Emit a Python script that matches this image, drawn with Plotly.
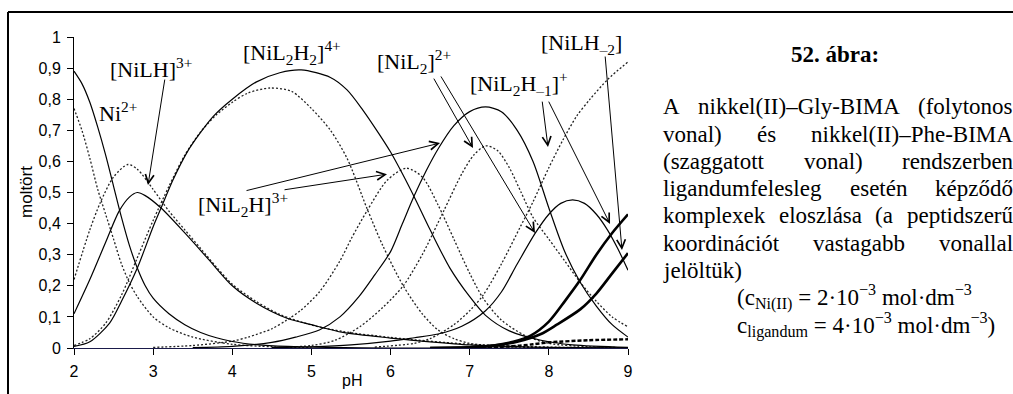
import plotly.graph_objects as go

# ---------------- data ----------------
# Gly-BIMA system (solid lines)
ph_ni_g = [2.0, 2.1, 2.2, 2.3, 2.4, 2.5, 2.6, 2.7, 2.8, 2.9, 3.0, 3.2, 3.4, 3.6, 3.8, 4.0, 4.3, 4.7, 5.2, 6.0, 7.0, 8.0, 9.0]
ni_g = [0.89, 0.85, 0.79, 0.71, 0.62, 0.52, 0.42, 0.33, 0.257, 0.2, 0.16, 0.11, 0.075, 0.05, 0.033, 0.021, 0.011, 0.005, 0.002, 0.0, 0.0, 0.0, 0.0]

ph_lh_g = [2.0, 2.2, 2.4, 2.57, 2.7, 2.8, 2.9, 3.1, 3.4, 3.7, 4.0, 4.3, 4.7, 5.0, 5.4, 6.0, 6.5, 7.0, 7.5, 8.0, 9.0]
lh_g = [0.11, 0.22, 0.34, 0.44, 0.485, 0.50, 0.49, 0.45, 0.37, 0.285, 0.2, 0.145, 0.095, 0.075, 0.05, 0.032, 0.02, 0.01, 0.005, 0.002, 0.0]

ph_l2h2_g = [2.0, 2.2, 2.45, 2.6, 2.8, 3.0, 3.1, 3.25, 3.43, 3.59, 3.76, 4.0, 4.3, 4.6, 4.87, 5.24, 5.45, 5.65, 5.85, 6.0, 6.15, 6.31, 6.5, 6.75, 7.0, 7.2, 7.5, 7.9, 8.3, 9.0]
l2h2_g = [0.005, 0.02, 0.08, 0.15, 0.257, 0.39, 0.45, 0.54, 0.63, 0.69, 0.745, 0.80, 0.855, 0.885, 0.894, 0.87, 0.83, 0.765, 0.69, 0.63, 0.56, 0.48, 0.38, 0.257, 0.165, 0.105, 0.055, 0.025, 0.01, 0.002]

ph_l2h_g = [3.5, 4.0, 4.5, 4.8, 5.1, 5.36, 5.6, 5.8, 6.0, 6.15, 6.3, 6.45, 6.6, 6.8, 7.0, 7.2, 7.4, 7.6, 7.8, 8.0, 8.2, 8.4, 8.6, 8.8, 9.0]
l2h_g = [0.001, 0.005, 0.018, 0.035, 0.058, 0.10, 0.165, 0.235, 0.31, 0.40, 0.49, 0.57, 0.64, 0.715, 0.76, 0.775, 0.76, 0.70, 0.60, 0.45, 0.31, 0.21, 0.135, 0.075, 0.035]

ph_l2_g = [4.5, 5.0, 5.5, 6.0, 6.3, 6.6, 6.9, 7.2, 7.4, 7.6, 7.83, 8.0, 8.15, 8.3, 8.45, 8.6, 8.74, 8.87, 9.0]
l2_g = [0.001, 0.004, 0.01, 0.022, 0.033, 0.045, 0.07, 0.12, 0.18, 0.27, 0.37, 0.43, 0.465, 0.476, 0.465, 0.43, 0.38, 0.32, 0.25]

ph_l2hm1_g = [6.5, 7.0, 7.3, 7.55, 7.77, 8.0, 8.2, 8.4, 8.6, 8.8, 9.0]
l2hm1_g = [0.0, 0.002, 0.008, 0.02, 0.04, 0.085, 0.15, 0.22, 0.30, 0.37, 0.43]

ph_lhm2_g = [6.5, 7.0, 7.3, 7.6, 7.9, 8.1, 8.4, 8.6, 8.8, 9.0]
lhm2_g = [0.0, 0.002, 0.008, 0.02, 0.045, 0.075, 0.125, 0.175, 0.24, 0.305]

# Phe-BIMA system (dashed lines)
ph_ni_p = [2.0, 2.1, 2.2, 2.3, 2.4, 2.5, 2.6, 2.7, 2.8, 3.0, 3.2, 3.5, 4.0, 4.5, 5.0]
ni_p = [0.77, 0.70, 0.61, 0.51, 0.43, 0.35, 0.27, 0.21, 0.165, 0.10, 0.065, 0.035, 0.012, 0.004, 0.001]

ph_lh_p = [2.0, 2.2, 2.33, 2.5, 2.68, 2.8, 3.0, 3.2, 3.4, 3.6, 3.8, 4.0, 4.3, 4.6, 5.0, 5.4, 6.0, 7.0, 8.0, 9.0]
lh_p = [0.22, 0.38, 0.466, 0.55, 0.59, 0.575, 0.51, 0.44, 0.38, 0.32, 0.26, 0.205, 0.15, 0.108, 0.074, 0.053, 0.034, 0.012, 0.003, 0.0]

ph_l2h2_p = [2.0, 2.2, 2.4, 2.6, 2.8, 3.0, 3.2, 3.4, 3.6, 3.8, 4.0, 4.2, 4.48, 4.75, 5.0, 5.24, 5.45, 5.7, 5.9, 6.16, 6.4, 6.6, 6.8, 7.0, 7.5, 8.0]
l2h2_p = [0.008, 0.03, 0.08, 0.17, 0.29, 0.41, 0.52, 0.62, 0.695, 0.75, 0.79, 0.82, 0.836, 0.825, 0.77, 0.70, 0.61, 0.45, 0.33, 0.20, 0.11, 0.058, 0.03, 0.015, 0.004, 0.001]

ph_l2h_p = [3.0, 3.5, 4.0, 4.2, 4.5, 4.69, 4.86, 5.1, 5.36, 5.5, 5.7, 5.96, 6.2, 6.4, 6.6, 6.8, 7.0, 7.17, 7.4, 7.7, 8.0, 8.5, 9.0]
l2h_p = [0.002, 0.008, 0.022, 0.035, 0.062, 0.09, 0.12, 0.18, 0.28, 0.35, 0.44, 0.54, 0.578, 0.55, 0.46, 0.35, 0.24, 0.16, 0.09, 0.04, 0.015, 0.004, 0.001]

ph_l2_p = [4.5, 5.0, 5.3, 5.62, 5.9, 6.16, 6.4, 6.67, 6.9, 7.05, 7.2, 7.35, 7.5, 7.65, 7.8, 8.0, 8.2, 8.4, 8.6, 8.8, 9.0]
l2_p = [0.002, 0.008, 0.025, 0.07, 0.13, 0.20, 0.30, 0.44, 0.56, 0.62, 0.65, 0.635, 0.58, 0.50, 0.42, 0.35, 0.28, 0.21, 0.15, 0.10, 0.068]

ph_l2hm1_p = [5.8, 6.3, 6.5, 6.8, 7.0, 7.17, 7.4, 7.64, 7.8, 8.0, 8.18, 8.35, 8.52, 8.75, 9.0]
l2hm1_p = [0.003, 0.015, 0.03, 0.075, 0.12, 0.17, 0.27, 0.39, 0.47, 0.58, 0.67, 0.745, 0.80, 0.865, 0.92]

ph_lhm2_p = [7.0, 7.5, 7.8, 8.0, 8.5, 9.0]
lhm2_p = [0.0, 0.005, 0.012, 0.018, 0.025, 0.028]

x_ticks = [2, 3, 4, 5, 6, 7, 8, 9]
y_ticks = [0, 0.1, 0.2, 0.3, 0.4, 0.5, 0.6, 0.7, 0.8, 0.9, 1.0]
y_ticktext = ["0", "0,1", "0,2", "0,3", "0,4", "0,5", "0,6", "0,7", "0,8", "0,9", "1"]

# species labels: (text, pH, fraction)
species_labels = [
    ("Ni<sup>2+</sup>", 2.556, 0.759),
    ("[NiLH]<sup>3+</sup>", 2.975, 0.90),
    ("[NiL<sub>2</sub>H<sub>2</sub>]<sup>4+</sup>", 4.755, 0.949),
    ("[NiL<sub>2</sub>]<sup>2+</sup>", 6.30, 0.92),
    ("[NiL<sub>2</sub>H<sub>–1</sub>]<sup>+</sup>", 7.62, 0.849),
    ("[NiLH<sub>–2</sub>]", 8.41, 0.977),
    ("[NiL<sub>2</sub>H]<sup>3+</sup>", 4.14, 0.46),
]
# arrows: (tail pH, tail frac, head pH, head frac)
arrows = [
    (3.150, 0.868, 2.935, 0.524),
    (4.161, 0.505, 6.625, 0.659),
    (4.641, 0.508, 5.955, 0.559),
    (6.536, 0.871, 7.042, 0.643),
    (6.625, 0.878, 7.825, 0.370),
    (7.914, 0.797, 7.989, 0.646),
    (7.989, 0.797, 8.773, 0.399),
    (8.710, 0.942, 8.924, 0.315),
]

caption_title = "52. ábra:"
caption_lines = [
    "A nikkel(II)–Gly-BIMA (folytonos",
    "vonal) és nikkel(II)–Phe-BIMA",
    "(szaggatott vonal) rendszerben",
    "ligandumfelesleg esetén képződő",
    "komplexek eloszlása (a peptidszerű",
    "koordinációt vastagabb vonallal",
]
caption_last = "jelöltük)"
formula_lines = [
    "(c<sub>Ni(II)</sub> = 2·10<sup>−3</sup> mol·dm<sup>−3</sup>",
    "c<sub>ligandum</sub> = 4·10<sup>−3</sup> mol·dm<sup>−3</sup>)",
]

# ---------------- figure ----------------
W, H = 1013, 394
L, R, T, B = 74, 628, 37, 348


def px(X):
    return (X - L) / (R - L)


def py(Y):
    return (B - Y) / (B - T)


fig = go.Figure()

DASH = "2px,2px"
solid = dict(color="black", width=1.2, shape="spline", smoothing=0.8)
dashed = dict(color="#222", width=1.3, dash=DASH, shape="spline", smoothing=0.8)
thick = dict(color="black", width=2.6, shape="spline", smoothing=0.8)
thick_d = dict(color="black", width=2.4, dash="4px,2px", shape="spline", smoothing=0.8)

series = [
    (ph_ni_p, ni_p, dashed), (ph_lh_p, lh_p, dashed), (ph_l2h2_p, l2h2_p, dashed),
    (ph_l2h_p, l2h_p, dashed), (ph_l2_p, l2_p, dashed), (ph_l2hm1_p, l2hm1_p, dashed),
    (ph_lhm2_p, lhm2_p, thick_d),
    (ph_ni_g, ni_g, solid), (ph_lh_g, lh_g, solid), (ph_l2h2_g, l2h2_g, solid),
    (ph_l2h_g, l2h_g, solid), (ph_l2_g, l2_g, solid),
    (ph_l2hm1_g, l2hm1_g, thick), (ph_lhm2_g, lhm2_g, thick),
]
for xs, ys, ln in series:
    fig.add_trace(go.Scatter(x=xs, y=ys, mode="lines", line=ln, hoverinfo="skip",
                             showlegend=False, cliponaxis=True))

ann = []
SERIF = "Liberation Serif"
for txt, xv, yv in species_labels:
    ann.append(dict(x=xv, y=yv, xref="x", yref="y", text=txt, showarrow=False,
                    font=dict(family=SERIF, size=22, color="black"),
                    xanchor="center", yanchor="middle"))
for tx, ty, hx, hy in arrows:
    ann.append(dict(x=hx, y=hy, xref="x", yref="y", ax=tx, ay=ty, axref="x", ayref="y",
                    text="", showarrow=True, arrowhead=5, arrowsize=1.7, arrowwidth=1,
                    arrowcolor="black", standoff=0))

# axis texts
ann.append(dict(x=px(26), y=py(192), xref="paper", yref="paper", text="moltört",
                textangle=-90, showarrow=False, xanchor="center", yanchor="middle",
                font=dict(family="Liberation Sans", size=17, color="black")))
ann.append(dict(x=px(352), y=py(380), xref="paper", yref="paper", text="pH",
                showarrow=False, xanchor="center", yanchor="middle",
                font=dict(family="Liberation Sans", size=16, color="black")))

# caption
TIMES = {
    'a': 444, 'b': 500, 'c': 444, 'd': 500, 'e': 444, 'f': 333, 'g': 500, 'h': 500, 'i': 278,
    'j': 278, 'k': 500, 'l': 278, 'm': 778, 'n': 500, 'o': 500, 'p': 500, 'q': 500, 'r': 333,
    's': 389, 't': 278, 'u': 500, 'v': 500, 'w': 722, 'x': 500, 'y': 500, 'z': 444,
    'A': 722, 'B': 667, 'C': 667, 'D': 722, 'E': 611, 'F': 556, 'G': 722, 'H': 722, 'I': 333,
    'M': 889, 'N': 722, 'P': 556, 'S': 556, 'T': 611,
    ' ': 250, '(': 333, ')': 333, '–': 500, '-': 333, '.': 250, ':': 278, ',': 250,
    'á': 444, 'é': 444, 'ó': 500, 'ő': 500, 'ű': 500, 'ü': 500, 'ö': 500, 'í': 278,
}
CAP_SIZE = 23


def text_w(s):
    return sum(TIMES.get(c, 500) for c in s) / 1000.0 * CAP_SIZE


X0, X1 = 661, 1011
line_ys = [107, 134.2, 161.4, 188.6, 215.8, 243.0, 270.2]
for line, yy in zip(caption_lines, line_ys):
    words = line.split(" ")
    widths = [text_w(w_) for w_ in words]
    gap = (X1 - X0 - sum(widths)) / (len(words) - 1)
    xx = X0
    for w_, wd in zip(words, widths):
        ann.append(dict(x=px(xx), y=py(yy), xref="paper", yref="paper", text=w_,
                        showarrow=False, xanchor="left", yanchor="middle",
                        font=dict(family=SERIF, size=CAP_SIZE, color="black")))
        xx += wd + gap
ann.append(dict(x=px(X0), y=py(line_ys[-1]), xref="paper", yref="paper", text=caption_last,
                showarrow=False, xanchor="left", yanchor="middle",
                font=dict(family=SERIF, size=CAP_SIZE, color="black")))
ann.append(dict(x=px(835), y=py(55), xref="paper", yref="paper", text="<b>" + caption_title + "</b>",
                showarrow=False, xanchor="center", yanchor="middle",
                font=dict(family=SERIF, size=CAP_SIZE, color="black")))
for fl, yy in zip(formula_lines, [297.4, 324.6]):
    ann.append(dict(x=px(735), y=py(yy), xref="paper", yref="paper", text=fl,
                    showarrow=False, xanchor="left", yanchor="middle",
                    font=dict(family=SERIF, size=CAP_SIZE, color="black")))

shapes = [
    dict(type="line", xref="paper", yref="paper", x0=px(8), x1=px(1014), y0=py(12), y1=py(12),
         line=dict(color="black", width=2)),
    dict(type="line", xref="paper", yref="paper", x0=px(8), x1=px(8), y0=py(12), y1=py(395),
         line=dict(color="black", width=2)),
]

fig.update_layout(
    width=W, height=H,
    margin=dict(l=L, r=W - R, t=T, b=H - B, pad=0),
    paper_bgcolor="white", plot_bgcolor="white",
    showlegend=False,
    annotations=ann, shapes=shapes,
    xaxis=dict(range=[2, 9], tickvals=x_ticks, ticktext=[str(v) for v in x_ticks],
               showgrid=False, zeroline=False, showline=True, linecolor="#1a1a4a", linewidth=1,
               ticks="outside", ticklen=6, tickcolor="black", automargin=False,
               ticklabelstandoff=3,
               tickfont=dict(family="Liberation Sans", size=16, color="black")),
    yaxis=dict(range=[0, 1], tickvals=y_ticks, ticktext=y_ticktext,
               showgrid=False, zeroline=False, showline=True, linecolor="black", linewidth=1,
               ticks="outside", ticklen=6, tickcolor="black", automargin=False,
               ticklabelstandoff=3,
               tickfont=dict(family="Liberation Sans", size=16, color="black")),
)

fig.write_html("out.html", config={"displayModeBar": False},
               post_script="document.body.style.margin='0px';document.body.style.overflow='hidden';")
